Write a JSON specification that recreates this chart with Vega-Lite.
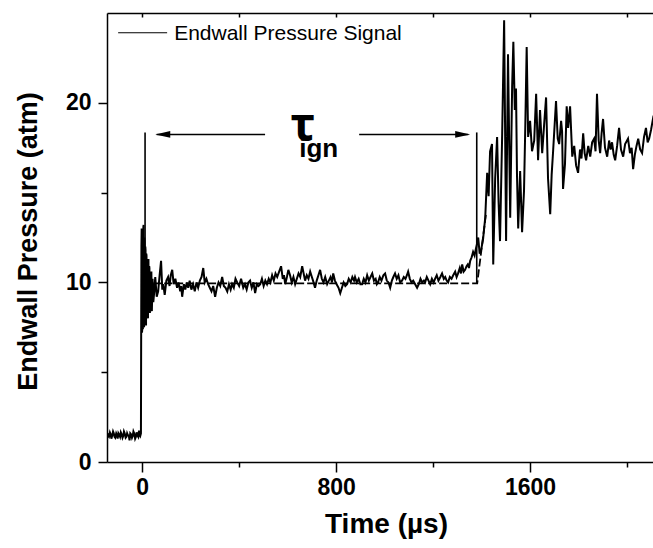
{
  "$schema": "https://vega.github.io/schema/vega-lite/v6.json",
  "width": 546,
  "height": 449,
  "autosize": {"type": "none"},
  "padding": {"left": 107, "top": 13, "right": 0, "bottom": 86},
  "background": "white",
  "config": {
    "view": {"stroke": null},
    "font": "Liberation Sans",
    "axis": {"domainColor": "black", "tickColor": "black", "labelColor": "black", "titleColor": "black", "grid": false, "domainWidth": 1.5, "tickWidth": 1.5, "labelFlush": false, "labelOverlap": false}
  },
  "datasets": {
    "signal": [
      {"t":-150,"p":1.5},{"t":-146,"p":1.35},{"t":-143,"p":1.6},{"t":-140,"p":1.45},{"t":-137,"p":1.4},{"t":-133,"p":1.65},{"t":-130,"p":1.55},{"t":-127,"p":1.3},{"t":-124,"p":1.45},{"t":-120,"p":1.7},{"t":-117,"p":1.6},{"t":-114,"p":1.4},{"t":-111,"p":1.35},{"t":-107,"p":1.6},{"t":-104,"p":1.5},{"t":-101,"p":1.3},{"t":-98,"p":1.6},{"t":-94,"p":1.5},{"t":-91,"p":1.4},{"t":-88,"p":1.65},{"t":-85,"p":1.55},{"t":-81,"p":1.35},{"t":-78,"p":1.45},{"t":-75,"p":1.7},{"t":-72,"p":1.6},{"t":-68,"p":1.35},{"t":-65,"p":1.4},{"t":-62,"p":1.6},{"t":-59,"p":1.5},{"t":-55,"p":1.45},{"t":-52,"p":1.2},{"t":-49,"p":1.6},{"t":-46,"p":1.55},{"t":-42,"p":1.35},{"t":-39,"p":1.45},{"t":-36,"p":1.7},{"t":-33,"p":1.6},{"t":-29,"p":1.3},{"t":-26,"p":1.4},{"t":-23,"p":1.65},{"t":-20,"p":1.5},{"t":-16,"p":1.4},{"t":-13,"p":1.75},{"t":-10,"p":1.5},{"t":-8,"p":1.45},{"t":-5,"p":1.6},
      {"t":-4,"p":7.5},{"t":-3,"p":12.0},{"t":-2,"p":13.0},{"t":-1,"p":7.2},{"t":0,"p":7.3},{"t":1,"p":12.9},{"t":2,"p":12.6},{"t":3,"p":7.4},{"t":4,"p":7.8},{"t":5,"p":13.1},{"t":6,"p":13.2},{"t":7,"p":7.6},{"t":8,"p":7.5},{"t":9,"p":12.5},{"t":10,"p":12.3},{"t":11,"p":8.1},{"t":12,"p":8.0},{"t":13,"p":12.0},{"t":14,"p":11.8},{"t":15,"p":7.8},{"t":16,"p":7.6},{"t":17,"p":11.6},{"t":18,"p":11.5},{"t":19,"p":8.3},{"t":20,"p":8.2},{"t":21,"p":11.2},{"t":22,"p":11.0},{"t":23,"p":8.1},{"t":24,"p":8.0},{"t":25,"p":11.2},{"t":26,"p":11.3},{"t":27,"p":8.6},{"t":28,"p":8.5},{"t":29,"p":10.9},{"t":30,"p":10.8},{"t":31,"p":8.4},{"t":32,"p":8.3},{"t":33,"p":10.6},{"t":34,"p":10.5},{"t":36,"p":8.8},{"t":38,"p":10.6},{"t":40,"p":8.4},{"t":43,"p":10.2},{"t":46,"p":8.9},
      {"t":50,"p":9.5},{"t":54,"p":10.3},{"t":60,"p":9.2},{"t":66,"p":9.5},{"t":72,"p":10.4},{"t":78,"p":11.2},{"t":83,"p":9.6},{"t":87,"p":9.9},{"t":93,"p":9.3},{"t":100,"p":10.1},{"t":107,"p":10.3},{"t":113,"p":9.8},{"t":118,"p":10.4},{"t":124,"p":10.7},{"t":130,"p":9.9},{"t":137,"p":10.2},{"t":144,"p":9.7},{"t":150,"p":10.0},{"t":157,"p":9.5},{"t":161,"p":9.8},{"t":165,"p":9.2},{"t":172,"p":9.9},{"t":178,"p":9.6},{"t":184,"p":10.0},{"t":190,"p":9.7},{"t":196,"p":10.1},{"t":203,"p":9.6},{"t":210,"p":9.9},{"t":217,"p":9.5},{"t":224,"p":10.0},{"t":231,"p":9.7},{"t":238,"p":10.1},{"t":245,"p":10.3},{"t":252,"p":10.8},{"t":258,"p":10.0},{"t":265,"p":10.2},{"t":272,"p":9.9},{"t":279,"p":9.7},{"t":286,"p":9.5},{"t":293,"p":9.8},{"t":301,"p":9.2},{"t":308,"p":9.7},{"t":315,"p":10.0},{"t":322,"p":9.8},{"t":330,"p":10.3},{"t":337,"p":9.8},{"t":344,"p":9.7},{"t":351,"p":9.5},{"t":358,"p":9.9},{"t":365,"p":9.6},{"t":371,"p":9.9},{"t":378,"p":9.7},{"t":385,"p":10.2},{"t":392,"p":10.0},{"t":400,"p":9.8},{"t":408,"p":10.2},{"t":417,"p":9.7},{"t":424,"p":9.9},{"t":431,"p":9.6},{"t":438,"p":10.0},{"t":445,"p":10.1},{"t":452,"p":9.7},{"t":459,"p":10.0},{"t":466,"p":9.4},{"t":473,"p":9.9},{"t":480,"p":9.8},{"t":487,"p":9.9},{"t":494,"p":10.2},{"t":501,"p":9.8},{"t":508,"p":10.1},{"t":515,"p":9.9},{"t":522,"p":10.2},{"t":529,"p":10.0},{"t":536,"p":10.4},{"t":543,"p":10.1},{"t":550,"p":10.5},{"t":557,"p":10.3},{"t":565,"p":10.6},{"t":573,"p":10.9},{"t":580,"p":10.2},{"t":585,"p":10.4},{"t":590,"p":9.9},{"t":597,"p":10.3},{"t":603,"p":10.7},{"t":610,"p":10.4},{"t":617,"p":10.0},{"t":624,"p":10.3},{"t":631,"p":9.9},{"t":638,"p":10.2},{"t":645,"p":10.5},{"t":652,"p":10.3},{"t":660,"p":10.9},{"t":666,"p":10.5},{"t":672,"p":10.1},{"t":679,"p":10.4},{"t":686,"p":10.2},{"t":693,"p":10.6},{"t":700,"p":10.3},{"t":707,"p":10.0},{"t":713,"p":9.7},{"t":720,"p":10.1},{"t":727,"p":10.4},{"t":734,"p":10.7},{"t":741,"p":10.2},{"t":748,"p":10.0},{"t":755,"p":10.3},{"t":763,"p":9.9},{"t":770,"p":10.1},{"t":777,"p":10.3},{"t":783,"p":10.0},{"t":788,"p":10.5},{"t":795,"p":10.1},{"t":802,"p":9.9},{"t":810,"p":9.7},{"t":817,"p":9.4},{"t":824,"p":9.7},{"t":831,"p":10.0},{"t":838,"p":9.8},{"t":845,"p":9.9},{"t":852,"p":10.2},{"t":860,"p":10.0},{"t":867,"p":10.3},{"t":874,"p":10.1},{"t":878,"p":10.3},{"t":885,"p":10.0},{"t":893,"p":10.2},{"t":900,"p":9.9},{"t":907,"p":9.9},{"t":914,"p":10.2},{"t":921,"p":10.0},{"t":928,"p":10.4},{"t":935,"p":10.1},{"t":942,"p":10.3},{"t":949,"p":10.5},{"t":956,"p":10.1},{"t":963,"p":10.2},{"t":968,"p":9.9},{"t":973,"p":10.0},{"t":980,"p":10.3},{"t":987,"p":10.1},{"t":995,"p":10.4},{"t":1002,"p":10.5},{"t":1009,"p":10.1},{"t":1016,"p":10.0},{"t":1023,"p":9.7},{"t":1030,"p":10.1},{"t":1036,"p":10.3},{"t":1043,"p":10.5},{"t":1050,"p":10.2},{"t":1057,"p":10.4},{"t":1064,"p":10.0},{"t":1072,"p":10.1},{"t":1079,"p":10.3},{"t":1086,"p":10.2},{"t":1092,"p":10.4},{"t":1097,"p":10.6},{"t":1104,"p":10.2},{"t":1111,"p":10.0},{"t":1118,"p":10.1},{"t":1126,"p":9.9},{"t":1134,"p":9.7},{"t":1141,"p":9.9},{"t":1148,"p":10.2},{"t":1155,"p":10.0},{"t":1162,"p":10.1},{"t":1167,"p":10.0},{"t":1174,"p":10.3},{"t":1181,"p":10.1},{"t":1188,"p":9.9},{"t":1195,"p":10.2},{"t":1202,"p":10.0},{"t":1208,"p":10.2},{"t":1215,"p":10.4},{"t":1222,"p":10.1},{"t":1230,"p":10.3},{"t":1237,"p":10.5},{"t":1244,"p":10.2},{"t":1250,"p":10.3},{"t":1256,"p":10.1},{"t":1262,"p":10.0},{"t":1269,"p":10.3},{"t":1276,"p":10.2},{"t":1283,"p":10.4},{"t":1291,"p":10.6},{"t":1297,"p":10.3},{"t":1303,"p":10.5},{"t":1310,"p":10.8},{"t":1315,"p":10.5},{"t":1320,"p":11.0},{"t":1326,"p":10.6},{"t":1332,"p":10.7},{"t":1338,"p":10.9},{"t":1343,"p":11.0},{"t":1348,"p":10.8},{"t":1353,"p":11.2},{"t":1359,"p":11.4},{"t":1365,"p":11.7},{"t":1371,"p":11.5},{"t":1377,"p":11.9},{"t":1382,"p":12.2},
      {"t":1386,"p":12.5},{"t":1392,"p":11.6},{"t":1398,"p":11.8},{"t":1406,"p":12.4},{"t":1415,"p":13.6},{"t":1423,"p":16.1},{"t":1429,"p":14.8},{"t":1435,"p":17.3},{"t":1443,"p":17.7},{"t":1448,"p":11.0},{"t":1456,"p":15.8},{"t":1464,"p":18.1},{"t":1470,"p":14.5},{"t":1476,"p":12.3},{"t":1485,"p":18.3},{"t":1493,"p":24.6},{"t":1501,"p":12.3},{"t":1509,"p":22.7},{"t":1518,"p":13.6},{"t":1526,"p":20.9},{"t":1531,"p":23.4},{"t":1537,"p":19.6},{"t":1542,"p":20.8},{"t":1546,"p":16.0},{"t":1551,"p":13.0},{"t":1559,"p":16.2},{"t":1567,"p":12.8},{"t":1575,"p":15.1},{"t":1580,"p":18.5},{"t":1586,"p":23.1},{"t":1592,"p":18.1},{"t":1600,"p":19.0},{"t":1608,"p":17.3},{"t":1617,"p":17.9},{"t":1625,"p":20.5},{"t":1633,"p":16.8},{"t":1641,"p":19.6},{"t":1650,"p":17.2},{"t":1658,"p":18.8},{"t":1666,"p":20.3},{"t":1674,"p":15.8},{"t":1683,"p":13.8},{"t":1689,"p":16.0},{"t":1695,"p":17.3},{"t":1707,"p":20.1},{"t":1714,"p":18.0},{"t":1720,"p":17.7},{"t":1728,"p":19.0},{"t":1732,"p":18.4},{"t":1736,"p":15.2},{"t":1744,"p":16.6},{"t":1751,"p":19.8},{"t":1757,"p":18.6},{"t":1765,"p":19.8},{"t":1774,"p":17.0},{"t":1782,"p":17.6},{"t":1790,"p":16.5},{"t":1798,"p":16.1},{"t":1806,"p":17.4},{"t":1812,"p":16.9},{"t":1819,"p":18.3},{"t":1825,"p":17.2},{"t":1831,"p":16.8},{"t":1840,"p":17.6},{"t":1848,"p":17.0},{"t":1856,"p":17.8},{"t":1864,"p":18.0},{"t":1870,"p":17.3},{"t":1876,"p":20.5},{"t":1883,"p":17.9},{"t":1889,"p":17.2},{"t":1895,"p":18.3},{"t":1901,"p":19.1},{"t":1909,"p":17.5},{"t":1918,"p":17.0},{"t":1926,"p":17.9},{"t":1932,"p":17.4},{"t":1938,"p":17.8},{"t":1945,"p":17.1},{"t":1951,"p":16.8},{"t":1959,"p":17.6},{"t":1967,"p":18.6},{"t":1975,"p":17.4},{"t":1984,"p":17.0},{"t":1992,"p":17.7},{"t":2004,"p":18.0},{"t":2012,"p":17.2},{"t":2019,"p":17.5},{"t":2025,"p":16.3},{"t":2032,"p":17.1},{"t":2039,"p":17.6},{"t":2046,"p":18.0},{"t":2054,"p":17.4},{"t":2062,"p":17.2},{"t":2070,"p":18.1},{"t":2078,"p":18.6},{"t":2085,"p":17.8},{"t":2091,"p":18.0},{"t":2099,"p":18.5},{"t":2107,"p":19.1},{"t":2115,"p":18.8}
    ],
    "model": [
      {"t":0,"p":9.95},{"t":1382,"p":9.95},{"t":1388,"p":10.6},{"t":1418,"p":13.8}
    ],
    "markers": [
      {"t":12,"p0":10.0,"p1":18.35},{"t":1380,"p0":9.95,"p1":18.35}
    ],
    "arrows": [
      {"t0":60,"t1":507,"p":18.24},{"t0":895,"t1":1345,"p":18.24}
    ],
    "heads": [
      {"t":85,"p":18.24,"dir":"left"},{"t":1322,"p":18.24,"dir":"right"}
    ]
  },
  "layer": [
    {
      "data": {"name": "signal"},
      "mark": {"type": "line", "color": "black", "strokeWidth": 2, "clip": true},
      "encoding": {
        "x": {"field": "t", "type": "quantitative", "scale": {"domain": [-145, 2107], "nice": false, "zero": false},
          "axis": {"orient": "bottom", "values": [0, 800, 1600], "format": "d", "tickSize": 10, "labelFontSize": 23, "labelFontWeight": "bold", "labelPadding": 4,
            "title": "Time (µs)", "titleFontSize": 28, "titleFontWeight": "bold", "titleX": 279, "titleY": 48, "titleBaseline": "top", "titleAlign": "center"}},
        "y": {"field": "p", "type": "quantitative", "scale": {"domain": [0, 25], "nice": false, "zero": false},
          "axis": {"orient": "left", "values": [0, 10, 20], "tickSize": 9, "labelFontSize": 23, "labelFontWeight": "bold", "labelPadding": 7,
            "title": "Endwall Pressure (atm)", "titleFontSize": 27, "titleFontWeight": "bold", "titleAngle": 270, "titleX": -79, "titleY": 228, "titleAlign": "center", "titleBaseline": "middle"}}
      }
    },
    {
      "data": {"name": "model"},
      "mark": {"type": "line", "color": "black", "strokeWidth": 1.8, "strokeDash": [8, 3]},
      "encoding": {
        "x": {"field": "t", "type": "quantitative", "axis": {"orient": "bottom", "values": [400, 1200, 2000], "tickSize": 5, "labels": false, "domain": false, "title": null}},
        "y": {"field": "p", "type": "quantitative", "axis": {"orient": "left", "values": [5, 15], "tickSize": 6, "labels": false, "domain": false, "title": null}}
      }
    },
    {
      "data": {"name": "markers"},
      "mark": {"type": "rule", "color": "black", "strokeWidth": 1.6},
      "encoding": {
        "x": {"field": "t", "type": "quantitative", "axis": {"orient": "top", "values": [0, 400, 800, 1200, 1600, 2000], "tickSize": -4, "labels": false, "title": null}},
        "y": {"field": "p0", "type": "quantitative", "axis": null},
        "y2": {"field": "p1"}
      }
    },
    {
      "data": {"name": "arrows"},
      "mark": {"type": "rule", "color": "black", "strokeWidth": 1.5},
      "encoding": {
        "x": {"field": "t0", "type": "quantitative", "axis": null},
        "x2": {"field": "t1"},
        "y": {"field": "p", "type": "quantitative", "axis": null}
      }
    },
    {
      "data": {"name": "heads"},
      "mark": {"type": "point", "filled": true, "color": "black", "opacity": 1, "size": 225, "strokeWidth": 0},
      "encoding": {
        "x": {"field": "t", "type": "quantitative", "axis": null},
        "y": {"field": "p", "type": "quantitative", "axis": null},
        "shape": {"field": "dir", "type": "nominal", "legend": null,
          "scale": {"domain": ["left", "right"], "range": ["M-1,0L1,-0.45L1,0.45Z", "M1,0L-1,-0.45L-1,0.45Z"]}}
      }
    },
    {
      "data": {"values": [{"t": 664, "p": 17.85, "label": "τ"}]},
      "mark": {"type": "text", "color": "black", "font": "Noto Sans", "fontSize": 46, "fontWeight": "bold", "align": "center", "baseline": "alphabetic"},
      "encoding": {
        "x": {"field": "t", "type": "quantitative", "axis": null},
        "y": {"field": "p", "type": "quantitative", "axis": null},
        "text": {"field": "label"}
      }
    },
    {
      "data": {"values": [{"t": 648, "p": 17.0, "label": "ign"}]},
      "mark": {"type": "text", "color": "black", "fontSize": 26, "fontWeight": "bold", "align": "left", "baseline": "alphabetic"},
      "encoding": {
        "x": {"field": "t", "type": "quantitative", "axis": null},
        "y": {"field": "p", "type": "quantitative", "axis": null},
        "text": {"field": "label"}
      }
    },
    {
      "data": {"values": [{"t0": -99, "t1": 103, "p": 23.9}]},
      "mark": {"type": "rule", "color": "black", "strokeWidth": 1},
      "encoding": {
        "x": {"field": "t0", "type": "quantitative", "axis": null},
        "x2": {"field": "t1"},
        "y": {"field": "p", "type": "quantitative", "axis": null}
      }
    },
    {
      "data": {"values": [{"t": 132, "p": 23.47, "label": "Endwall Pressure Signal"}]},
      "mark": {"type": "text", "color": "black", "fontSize": 21, "align": "left", "baseline": "alphabetic"},
      "encoding": {
        "x": {"field": "t", "type": "quantitative", "axis": null},
        "y": {"field": "p", "type": "quantitative", "axis": null},
        "text": {"field": "label"}
      }
    }
  ],
  "resolve": {"axis": {"x": "independent", "y": "independent"}}
}
